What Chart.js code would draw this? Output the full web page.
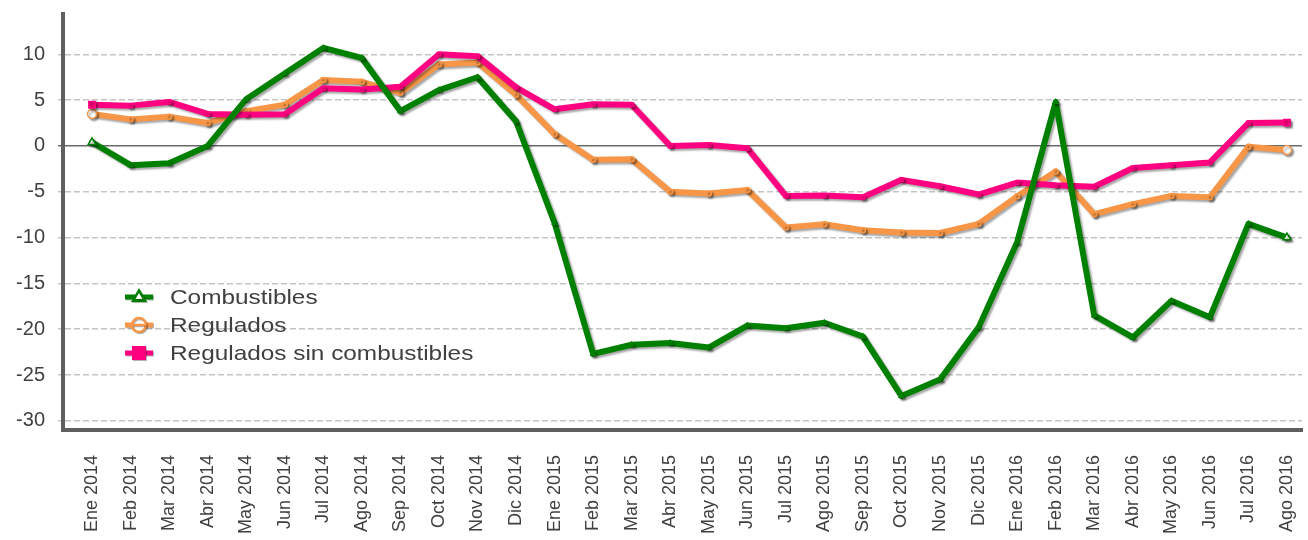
<!DOCTYPE html>
<html>
<head>
<meta charset="utf-8">
<script src="https://cdn.jsdelivr.net/npm/chart.js"></script>
<style>
  html, body { margin: 0; padding: 0; background: #fff; }
  #wrap { width: 1308px; height: 540px; position: relative; }
</style>
</head>
<body>
<div id="wrap"><canvas id="graph"></canvas></div>
<script>
const months = [
    'Ene 2014', 'Feb 2014', 'Mar 2014', 'Abr 2014', 'May 2014', 'Jun 2014', 'Jul 2014', 'Ago 2014',
    'Sep 2014', 'Oct 2014', 'Nov 2014', 'Dic 2014', 'Ene 2015', 'Feb 2015', 'Mar 2015', 'Abr 2015',
    'May 2015', 'Jun 2015', 'Jul 2015', 'Ago 2015', 'Sep 2015', 'Oct 2015', 'Nov 2015', 'Dic 2015',
    'Ene 2016', 'Feb 2016', 'Mar 2016', 'Abr 2016', 'May 2016', 'Jun 2016', 'Jul 2016', 'Ago 2016'
];

const combustibles = [
    0.4, -2.1, -1.9, 0.0, 5.1, 7.9, 10.7, 9.6, 3.8, 6.1, 7.5, 2.7,
    -8.4, -22.7, -21.7, -21.5, -22.0, -19.6, -19.9, -19.3, -20.8, -27.3, -25.5, -19.8,
    -10.5, 4.8, -18.5, -20.9, -16.9, -18.7, -8.5, -10.0
];

const regulados = [
    3.5, 2.9, 3.2, 2.5, 3.8, 4.5, 7.2, 7.0, 5.8, 8.9, 9.1, 5.6,
    1.3, -1.5, -1.45, -5.0, -5.2, -4.8, -8.9, -8.55, -9.2, -9.45, -9.5, -8.5,
    -5.5, -2.8, -7.45, -6.35, -5.45, -5.6, -0.1, -0.45
];

const reguladosSinComb = [
    4.5, 4.4, 4.8, 3.5, 3.4, 3.45, 6.3, 6.15, 6.45, 10.0, 9.8, 6.4,
    4.0, 4.55, 4.5, 0.0, 0.1, -0.25, -5.45, -5.4, -5.6, -3.7, -4.4, -5.3,
    -4.0, -4.3, -4.45, -2.4, -2.1, -1.8, 2.5, 2.55
];

const yTicks = [-30, -25, -20, -15, -10, -5, 0, 5, 10];

const FONT = '"Liberation Sans", Arial, sans-serif';
const TEXT = '#404040';

function toPoints(values) {
    return values.map((v, i) => ({ x: i, y: v }));
}

function isEnd(ctx) {
    return ctx.dataIndex === 0 || ctx.dataIndex === ctx.dataset.data.length - 1;
}

// hollow markers on the first and last point, like the original
function endFill(color) {
    return ctx => isEnd(ctx) ? '#ffffff' : color;
}

const shadowPlugin = {
    id: 'lineShadow',
    beforeDatasetsDraw(chart) {
        const ctx = chart.ctx;
        ctx.save();
        ctx.shadowColor = 'rgba(0, 0, 0, 0.35)';
        ctx.shadowOffsetX = 2;
        ctx.shadowOffsetY = 2;
        ctx.shadowBlur = 2;
    },
    afterDatasetsDraw(chart) {
        chart.ctx.restore();
    }
};

const legendPlugin = {
    id: 'insideLegend',
    afterDraw(chart) {
        const ctx = chart.ctx;
        const x0 = chart.chartArea.left + 62;
        const y0 = chart.chartArea.top + 283;
        ctx.save();
        ctx.font = '21px ' + FONT;
        ctx.textBaseline = 'middle';
        chart.data.datasets.forEach((ds, i) => {
            const y = y0 + i * 28;
            const cx = x0 + 14;
            ctx.save();
            ctx.shadowColor = 'rgba(0, 0, 0, 0.3)';
            ctx.shadowOffsetX = 1;
            ctx.shadowOffsetY = 1;
            ctx.strokeStyle = ds.borderColor;
            ctx.lineWidth = 5;
            ctx.beginPath();
            ctx.moveTo(x0, y);
            ctx.lineTo(x0 + 28, y);
            ctx.stroke();
            ctx.lineWidth = 2.5;
            if (ds.pointStyle === 'triangle') {
                ctx.fillStyle = ds.borderColor;
                ctx.beginPath();
                ctx.moveTo(cx, y - 9);
                ctx.lineTo(cx + 8, y + 5);
                ctx.lineTo(cx - 8, y + 5);
                ctx.closePath();
                ctx.fill();
                ctx.fillStyle = '#fff';
                ctx.beginPath();
                ctx.moveTo(cx, y - 4);
                ctx.lineTo(cx + 3.5, y + 2);
                ctx.lineTo(cx - 3.5, y + 2);
                ctx.closePath();
                ctx.fill();
            } else if (ds.pointStyle === 'circle') {
                ctx.fillStyle = '#fff';
                ctx.beginPath();
                ctx.arc(cx, y, 7, 0, Math.PI * 2);
                ctx.fill();
                ctx.stroke();
                ctx.beginPath();
                ctx.moveTo(cx - 7, y);
                ctx.lineTo(cx + 7, y);
                ctx.stroke();
            } else {
                ctx.fillStyle = ds.borderColor;
                ctx.fillRect(cx - 7, y - 7, 14, 14);
            }
            ctx.restore();
            // the original text is a little wider than Liberation Sans
            ctx.save();
            ctx.fillStyle = TEXT;
            ctx.translate(x0 + 45, y + 1);
            ctx.scale(1.16, 1);
            ctx.fillText(ds.label, 0, 0);
            ctx.restore();
        });
        ctx.restore();
    }
};

const ctx = document.getElementById('graph').getContext('2d');

new Chart(ctx, {
    type: 'line',
    data: {
        datasets: [{
            label: 'Combustibles',
            data: toPoints(combustibles),
            borderColor: '#008000',
            backgroundColor: '#008000',
            pointStyle: 'triangle',
            pointBackgroundColor: endFill('#008000'),
            order: 0
        }, {
            label: 'Regulados',
            data: toPoints(regulados),
            borderColor: '#F79646',
            backgroundColor: '#F79646',
            pointStyle: 'circle',
            pointBackgroundColor: endFill('#F79646'),
            order: 2
        }, {
            label: 'Regulados sin combustibles',
            data: toPoints(reguladosSinComb),
            borderColor: '#FF0080',
            backgroundColor: '#FF0080',
            pointStyle: 'rect',
            pointBackgroundColor: '#FF0080',
            order: 1
        }]
    },
    options: {
        responsive: true,
        maintainAspectRatio: false,
        animation: false,
        layout: { padding: { top: 14, right: 0, left: 0, bottom: 0 } },
        elements: {
            line: { borderWidth: 6, tension: 0, borderJoinStyle: 'round', borderCapStyle: 'round' },
            point: {
                radius: ctx => isEnd(ctx) ? 4.5 : 2.5,
                borderWidth: 1.5,
                hoverRadius: 4
            }
        },
        plugins: {
            legend: { display: false },
            tooltip: { enabled: false }
        },
        scales: {
            x: {
                type: 'linear',
                min: -0.753,
                max: 31.39,
                afterBuildTicks: function(scale) {
                    scale.ticks = months.map((m, i) => ({ value: i }));
                },
                afterFit: function(scale) {
                    scale.height = 110;
                    scale.paddingLeft = 0;
                    scale.paddingRight = 0;
                },
                grid: { display: false, drawTicks: false },
                border: { display: true, color: '#5f5f5f', width: 4 },
                ticks: {
                    autoSkip: false,
                    maxRotation: 90,
                    minRotation: 90,
                    padding: 25,
                    color: TEXT,
                    font: { family: FONT, size: 18 },
                    callback: function(value) {
                        return months[value];
                    }
                }
            },
            y: {
                min: -31,
                max: 14.4,
                afterBuildTicks: function(scale) {
                    scale.ticks = yTicks.map(v => ({ value: v }));
                },
                afterFit: function(scale) {
                    scale.width = 63;
                    scale.paddingTop = 0;
                    scale.paddingBottom = 0;
                },
                grid: {
                    color: function(c) {
                        return c.tick && c.tick.value === 0 ? '#6a6a6a' : '#c4c4c4';
                    },
                    lineWidth: 1.5,
                    tickLength: 5
                },
                border: {
                    display: true,
                    color: '#5f5f5f',
                    width: 4,
                    dash: function(c) {
                        return c.tick && c.tick.value === 0 ? [] : [6, 3];
                    }
                },
                ticks: {
                    padding: 13,
                    color: TEXT,
                    font: { family: FONT, size: 20 }
                }
            }
        }
    },
    plugins: [shadowPlugin, legendPlugin]
});
</script>
</body>
</html>
